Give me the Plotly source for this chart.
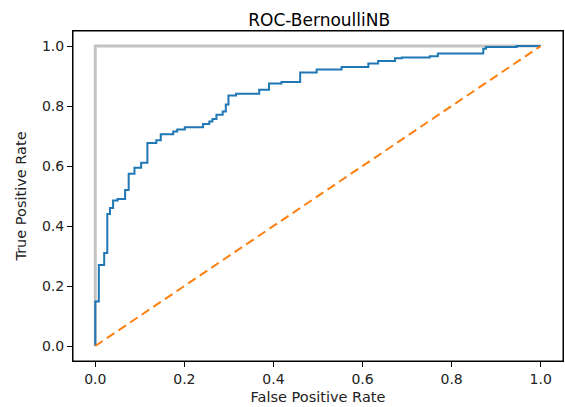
import plotly.graph_objects as go

# ROC points (fpr where the curve steps up, tpr after the step)
fpr = [0.0, 0.0, 0.008, 0.02, 0.027, 0.033, 0.04, 0.05, 0.067, 0.075, 0.088, 0.103,
       0.117, 0.137, 0.147, 0.175, 0.184, 0.201, 0.242, 0.256, 0.263, 0.272, 0.286,
       0.293, 0.299, 0.316, 0.368, 0.39, 0.418, 0.46, 0.497, 0.553, 0.613, 0.635,
       0.673, 0.688, 0.751, 0.769, 0.871, 0.877, 0.946, 1.0]
tpr = [0.0, 0.148, 0.27, 0.31, 0.44, 0.46, 0.485, 0.49, 0.52, 0.574, 0.594, 0.611,
       0.677, 0.686, 0.706, 0.715, 0.722, 0.729, 0.74, 0.748, 0.757, 0.771, 0.782,
       0.805, 0.835, 0.841, 0.854, 0.875, 0.88, 0.912, 0.922, 0.93, 0.942, 0.95,
       0.959, 0.962, 0.966, 0.975, 0.991, 0.997, 1.0, 1.0]

ideal_x = [0, 0, 1]
ideal_y = [0, 1, 1]
chance_x = [0, 1]
chance_y = [0, 1]

ticks = [0.0, 0.2, 0.4, 0.6, 0.8, 1.0]
tick_text = ['0.0', '0.2', '0.4', '0.6', '0.8', '1.0']

fig = go.Figure()
fig.add_trace(go.Scatter(x=ideal_x, y=ideal_y, mode='lines',
                         line=dict(color='#c4c4c4', width=3)))
fig.add_trace(go.Scatter(x=fpr, y=tpr, mode='lines', line_shape='hv',
                         line=dict(color='#1f77b4', width=2)))
fig.add_trace(go.Scatter(x=chance_x, y=chance_y, mode='lines',
                         line=dict(color='#ff7f0e', width=2, dash='9px,5px')))

axis = dict(range=[-0.05, 1.05], tickvals=ticks, ticktext=tick_text,
            showgrid=False, zeroline=False, showline=True, mirror=True,
            linecolor='black', linewidth=1, ticks='outside', ticklen=5,
            tickcolor='black', tickfont=dict(size=14, color='#222'),
            automargin=False)

fig.update_layout(
    width=565, height=407,
    margin=dict(l=73, r=2, t=31, b=46, autoexpand=False),
    paper_bgcolor='white', plot_bgcolor='white',
    font=dict(family='DejaVu Sans', color='#222'),
    showlegend=False,
    title=dict(text='ROC-BernoulliNB', x=0.565, xanchor='center', y=0.95,
               yanchor='middle', font=dict(size=17, color='#000')),
    xaxis=dict(axis, title=dict(text='False Positive Rate', font=dict(size=14.5), standoff=6)),
    yaxis=dict(axis, title=dict(text='True Positive Rate', font=dict(size=14.5), standoff=11)),
)

# axes frame
fig.add_shape(type='rect', xref='paper', yref='paper', x0=0, x1=1, y0=0, y1=1,
              line=dict(color='black', width=1), layer='above')

# page has a default 8px body margin, drop it so the chart sits at 0,0
fig.write_html('out.html', config={'displayModeBar': False},
               post_script="document.body.style.margin='0';")
